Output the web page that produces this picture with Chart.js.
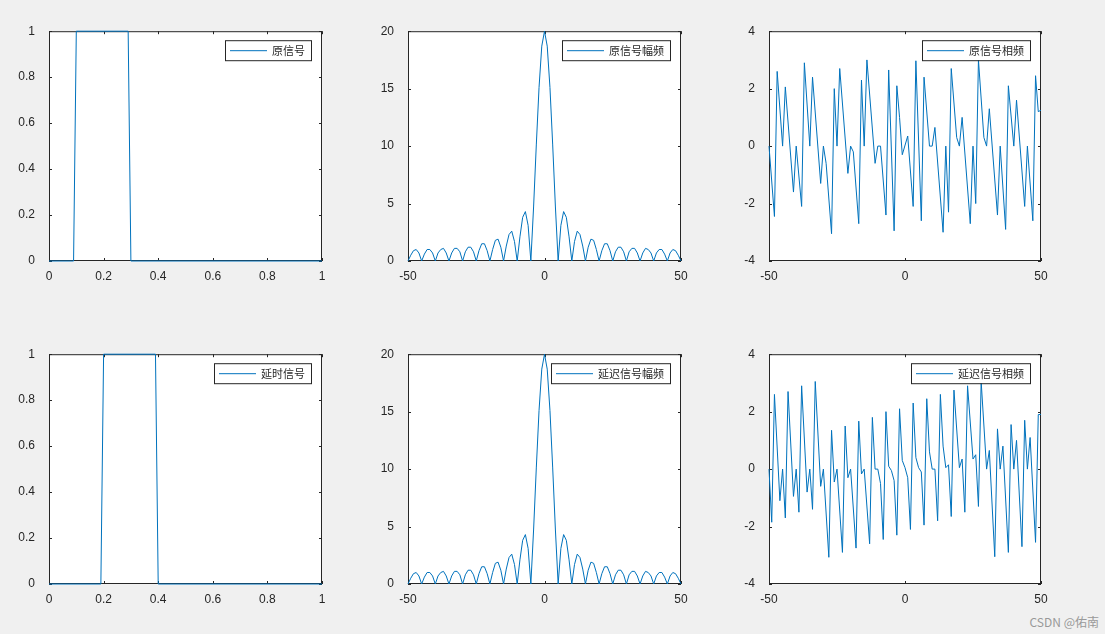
<!DOCTYPE html>
<html>
<head>
<meta charset="utf-8">
<script src="https://cdn.jsdelivr.net/npm/chart.js@4/dist/chart.umd.min.js"></script>
<style>
  body { margin: 0; background: #f0f0f0; width: 1105px; height: 634px; position: relative; overflow: hidden; }
  canvas { position: absolute; }
  .mark { position: absolute; right: 6px; bottom: 4px; font: 12px "Noto Sans CJK SC", sans-serif; color: #999; }
</style>
</head>
<body>
<canvas id="c1"></canvas><canvas id="c2"></canvas><canvas id="c3"></canvas>
<canvas id="c4"></canvas><canvas id="c5"></canvas><canvas id="c6"></canvas>
<div class="mark">CSDN @佑南</div>
<script>
// time signals
const origX = [0, 0.09, 0.1, 0.29, 0.3, 1];
const origY = [0, 0, 1, 1, 0, 0];
const delayX = [0, 0.19, 0.2, 0.39, 0.4, 1];
const delayY = [0, 0, 1, 1, 0, 0];

// amplitude spectrum, k = -50..50 (same for both signals)
const freqK = [];
for (let k = -50; k <= 50; k++) freqK.push(k);
const ampVals = [
  0, 0.5, 0.9, 1.0, 0.7,
  0, 0.6, 1.0, 1.0, 0.7,
  0, 0.7, 1.0, 1.1, 0.7,
  0, 0.7, 1.1, 1.1, 0.8,
  0, 0.8, 1.2, 1.2, 0.8,
  0, 0.9, 1.5, 1.5, 0.9,
  0, 1.0, 1.8, 1.9, 1.2,
  0, 1.3, 2.3, 2.6, 1.7,
  0, 2.1, 3.8, 4.3, 3.1,
  0, 4.7, 10.1, 15.1, 18.7,
  20,
  18.7, 15.1, 10.1, 4.7, 0,
  3.1, 4.3, 3.8, 2.1, 0,
  1.7, 2.6, 2.3, 1.3, 0,
  1.2, 1.9, 1.8, 1.0, 0,
  0.9, 1.5, 1.5, 0.9, 0,
  0.8, 1.2, 1.2, 0.8, 0,
  0.8, 1.1, 1.1, 0.7, 0,
  0.7, 1.1, 1.0, 0.7, 0,
  0.7, 1.0, 1.0, 0.6, 0,
  0.7, 1.0, 0.9, 0.5, 0
];

// phase of original signal (vertices)
const phaseOrigX = [-50,-48,-47,-45,-44,-41,-40,-38,-37,-35,-34,-31,-30,-29,-27,-26,-25,-24,-21,-20,-19,-17,-16,-15,-14,-11,-10,-9,-7,-6,-4,-3,-2,-1,1,3,4,6,7,9,10,11,14,15,16,17,19,20,21,24,25,26,27,29,30,31,34,35,37,38,40,41,44,45,47,48,49,50];
const phaseOrigY = [0,-2.45,2.6,0,2.06,-1.6,0,-2.1,2.9,0,2.4,-1.3,0,-0.6,-3.05,2,0,2.7,-0.95,0,-0.2,-2.7,2.3,0,3.0,-0.6,0,0,-2.4,2.65,-2.95,2.1,1.0,-0.3,0.35,-2.1,2.97,-2.6,2.4,0,0,0.65,-3.0,0,-2.3,2.7,0.3,0,1.0,-2.7,0,-2.0,3.0,0.3,0,1.3,-2.4,0,-2.9,2.1,0,1.6,-2.1,0,-2.6,2.45,1.2,1.25];

// phase of delayed signal
const phaseDelX = [-50,-49,-48,-46,-45,-44,-43,-41,-40,-39,-38,-36,-35,-34,-33,-31,-30,-28,-27,-26,-25,-23,-22,-21,-20,-18,-17,-16,-15,-13,-12,-11,-10,-9,-8,-7,-6,-5,-4,-3,-2,-1,0,1,2,3,4,5,6,7,8,9,10,11,12,13,14,15,16,17,18,20,21,22,23,25,26,27,28,30,31,33,34,35,36,38,39,40,41,43,44,45,46,48,49,50];
const phaseDelY = [0,-1.85,2.6,-1.1,0,-1.7,2.7,-0.95,0,-1.5,2.9,-0.8,0,-1.4,3.05,-0.6,0,-3.07,1.35,-0.45,0,-2.9,1.5,-0.3,0,-2.75,1.67,-0.17,0,-2.6,1.8,0,0,-0.5,-2.45,2.0,0.1,-0.05,-0.4,-2.3,2.1,0.3,0.05,-0.3,-2.1,2.3,0.4,0.05,-0.1,-1.95,2.45,0.6,0,0,-1.8,2.6,0.8,0.05,0.15,-1.65,2.75,0.05,0.35,-1.5,2.9,0.35,0.5,-1.3,3.05,0,0.65,-3.05,1.4,0,0.8,-2.9,1.55,0,1.0,-2.7,1.7,0,1.1,-2.55,1.9,1.9];

const pts = (xs, ys) => xs.map((x, i) => ({ x: x, y: ys[i] }));

// plot areas [left, top, width, height]
const areas = [
  [49, 28, 273, 232], [408, 28, 273, 232], [769, 28, 272, 232],
  [49, 351, 273, 232], [408, 351, 273, 232], [769, 351, 272, 232]
];

const fontTicks = { family: "'Liberation Sans', Arial, sans-serif", size: 12 };
const axisColor = "#262626";

const boxPlugin = {
  id: "box",
  beforeDraw(chart) {
    const a = chart.chartArea, c = chart.ctx;
    c.save();
    c.fillStyle = "#fff";
    c.fillRect(a.left, a.top, a.right - a.left, a.bottom - a.top);
    c.restore();
  },
  beforeDatasetsDraw(chart) {
    const a = chart.chartArea, c = chart.ctx;
    c.save();
    c.strokeStyle = axisColor;
    c.lineWidth = 1;
    c.strokeRect(a.left + 0.5, a.top + 0.5, a.right - a.left - 1, a.bottom - a.top - 1);
    const xs = chart.scales.x, ys = chart.scales.y;
    c.beginPath();
    xs.ticks.forEach((t, i) => {
      const px = Math.round(xs.getPixelForTick(i)) + 0.5;
      c.moveTo(px, a.bottom); c.lineTo(px, a.bottom - 3);
      c.moveTo(px, a.top); c.lineTo(px, a.top + 3);
    });
    ys.ticks.forEach((t, i) => {
      const py = Math.round(ys.getPixelForTick(i)) + 0.5;
      c.moveTo(a.left, py); c.lineTo(a.left + 3, py);
      c.moveTo(a.right, py); c.lineTo(a.right - 3, py);
    });
    c.stroke();
    c.restore();
  },
  afterDraw(chart) {
    const a = chart.chartArea, c = chart.ctx;
    c.save();
    const label = chart.options.plugins.myLegend.text;
    c.font = "11px 'Noto Sans CJK SC', sans-serif";
    const tw = c.measureText(label).width;
    const w = 5 + 37 + 5 + tw + 6, h = 20;
    const x0 = a.right - 11 - w, y0 = a.top + 9;
    c.fillStyle = "#fff";
    c.fillRect(x0, y0, w, h);
    c.strokeStyle = axisColor;
    c.lineWidth = 1;
    c.strokeRect(x0 + 0.5, y0 + 0.5, w, h);
    c.strokeStyle = "#0072BD";
    c.beginPath();
    c.moveTo(x0 + 5, y0 + 10.5); c.lineTo(x0 + 42, y0 + 10.5);
    c.stroke();
    c.fillStyle = axisColor;
    c.textBaseline = "middle";
    c.fillText(label, x0 + 47, y0 + 11);
    c.restore();
  }
};

function makeChart(id, area, data, legendText, xr, yr) {
  const [l, t, w, h] = area;
  const cv = document.getElementById(id);
  const cw = w + 60, ch = h + 40;
  cv.style.left = (l - 40) + "px";
  cv.style.top = (t - 10) + "px";
  cv.width = cw; cv.height = ch;
  cv.style.width = cw + "px"; cv.style.height = ch + "px";
  return new Chart(cv, {
    type: "line",
    data: { datasets: [{ data: data, borderColor: "#0072BD", borderWidth: 1, pointRadius: 0, tension: 0, clip: 2 }] },
    options: {
      responsive: false,
      animation: false,
      layout: { padding: { top: 7, right: 20, left: 0, bottom: 0 } },
      plugins: { legend: { display: false }, tooltip: { enabled: false }, myLegend: { text: legendText } },
      scales: {
        x: {
          type: "linear", min: xr[0], max: xr[1],
          ticks: { stepSize: xr[2], color: axisColor, font: fontTicks, maxRotation: 0, padding: 0,
                   callback: v => String(+v.toFixed(2)) },
          grid: { display: false }, border: { display: false },
          afterFit(s) { s.height = 29; }
        },
        y: {
          min: yr[0], max: yr[1],
          ticks: { stepSize: yr[2], color: axisColor, font: fontTicks, padding: 6,
                   callback: v => String(+v.toFixed(2)) },
          grid: { display: false }, border: { display: false },
          afterFit(s) { s.width = 40; }
        }
      }
    },
    plugins: [boxPlugin]
  });
}

makeChart("c1", areas[0], pts(origX, origY), "原信号", [0, 1, 0.2], [0, 1, 0.2]);
makeChart("c2", areas[1], pts(freqK, ampVals), "原信号幅频", [-50, 50, 50], [0, 20, 5]);
makeChart("c3", areas[2], pts(phaseOrigX, phaseOrigY), "原信号相频", [-50, 50, 50], [-4, 4, 2]);
makeChart("c4", areas[3], pts(delayX, delayY), "延时信号", [0, 1, 0.2], [0, 1, 0.2]);
makeChart("c5", areas[4], pts(freqK, ampVals), "延迟信号幅频", [-50, 50, 50], [0, 20, 5]);
makeChart("c6", areas[5], pts(phaseDelX, phaseDelY), "延迟信号相频", [-50, 50, 50], [-4, 4, 2]);
</script>
</body>
</html>
